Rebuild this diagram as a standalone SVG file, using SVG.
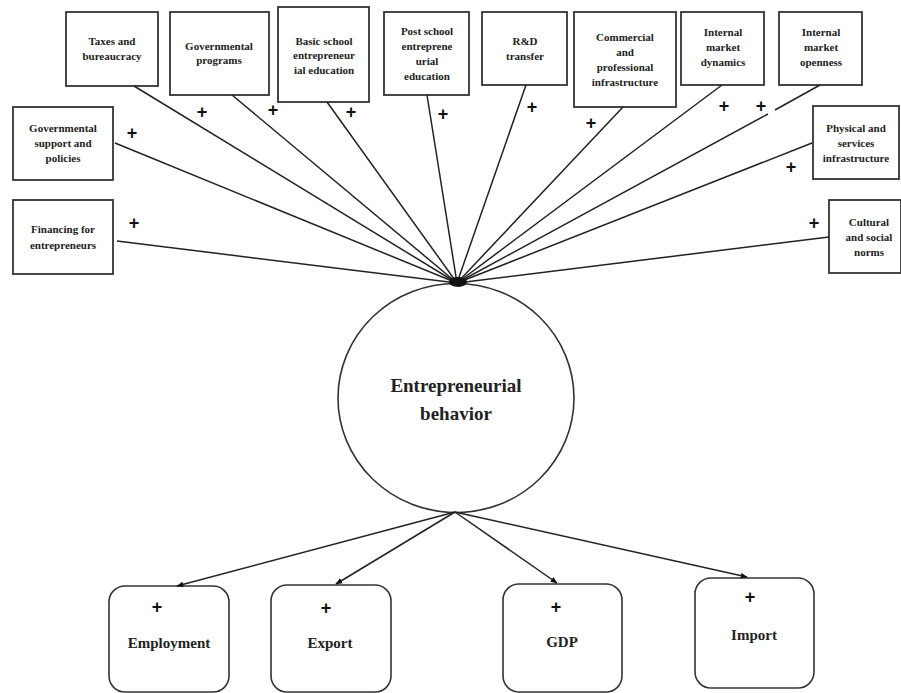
<svg xmlns="http://www.w3.org/2000/svg" width="901" height="693" viewBox="0 0 901 693">
<style>
.box{fill:#fff;stroke:#333;stroke-width:1.8}
.rbox{fill:#fff;stroke:#333;stroke-width:1.6}
.t{font-family:"Liberation Serif","Times New Roman",serif;font-weight:bold;font-size:11px;fill:#222;text-anchor:middle}
.tb{font-family:"Liberation Serif","Times New Roman",serif;font-weight:bold;font-size:15px;fill:#222;text-anchor:middle}
.tc{font-family:"Liberation Serif","Times New Roman",serif;font-weight:bold;font-size:19px;fill:#222;text-anchor:middle}
.p{font-family:"Liberation Sans",Arial,sans-serif;font-weight:bold;font-size:18px;fill:#111;text-anchor:middle}
.ln{stroke:#222;stroke-width:1.5;fill:none}
</style>
<defs>
<marker id="ah" viewBox="0 0 10 10" refX="9" refY="5" markerWidth="7" markerHeight="7" orient="auto" markerUnits="userSpaceOnUse">
<path d="M0,1 L10,5 L0,9 Z" fill="#111"/>
</marker>
</defs>
<rect width="901" height="693" fill="#fff"/>

<g id="taxes"><rect class="box" x="66" y="12" width="92" height="74"/>
<text class="t" x="112" y="45">Taxes and</text><text class="t" x="112" y="60">bureaucracy</text></g>

<g id="gov-programs"><rect class="box" x="170" y="12" width="99" height="83"/>
<text class="t" x="219" y="50">Governmental</text><text class="t" x="219" y="64">programs</text></g>

<g id="basic-school"><rect class="box" x="278" y="7" width="91" height="95"/>
<text class="t" x="324" y="45">Basic school</text><text class="t" x="324" y="59">entrepreneur</text><text class="t" x="324" y="74">ial education</text></g>

<g id="post-school"><rect class="box" x="384" y="12" width="85" height="83"/>
<text class="t" x="427" y="35">Post school</text><text class="t" x="427" y="50">entreprene</text><text class="t" x="427" y="65">urial</text><text class="t" x="427" y="80">education</text></g>

<g id="rd-transfer"><rect class="box" x="482" y="12" width="85" height="73"/>
<text class="t" x="525" y="45">R&amp;D</text><text class="t" x="525" y="60">transfer</text></g>

<g id="commercial"><rect class="box" x="574" y="12" width="102" height="95"/>
<text class="t" x="625" y="41">Commercial</text><text class="t" x="625" y="56">and</text><text class="t" x="625" y="71">professional</text><text class="t" x="625" y="86">infrastructure</text></g>

<g id="market-dynamics"><rect class="box" x="681" y="12" width="83" height="73"/>
<text class="t" x="723" y="36">Internal</text><text class="t" x="723" y="51">market</text><text class="t" x="723" y="66">dynamics</text></g>

<g id="market-openness"><rect class="box" x="779" y="12" width="83" height="73"/>
<text class="t" x="821" y="36">Internal</text><text class="t" x="821" y="51">market</text><text class="t" x="821" y="66">openness</text></g>

<g id="gov-support"><rect class="box" x="13" y="107" width="100" height="73"/>
<text class="t" x="63" y="132">Governmental</text><text class="t" x="63" y="147">support and</text><text class="t" x="63" y="162">policies</text></g>

<g id="financing"><rect class="box" x="13" y="200" width="100" height="74"/>
<text class="t" x="63" y="233">Financing for</text><text class="t" x="63" y="249">entrepreneurs</text></g>

<g id="physical"><rect class="box" x="813" y="106" width="86" height="73"/>
<text class="t" x="856" y="132">Physical and</text><text class="t" x="856" y="147">services</text><text class="t" x="856" y="162">infrastructure</text></g>

<g id="cultural"><rect class="box" x="829" y="200" width="72" height="73"/>
<text class="t" x="869" y="226">Cultural</text><text class="t" x="869" y="241">and social</text><text class="t" x="869" y="256">norms</text></g>

<g id="signs">
<text class="p" x="202" y="118">+</text>
<text class="p" x="273" y="116">+</text>
<text class="p" x="132" y="139">+</text>
<text class="p" x="134" y="229">+</text>
<text class="p" x="351" y="118">+</text>
<text class="p" x="443" y="120">+</text>
<text class="p" x="532" y="113">+</text>
<text class="p" x="591" y="129">+</text>
<text class="p" x="724" y="112">+</text>
<text class="p" x="761" y="112">+</text>
<text class="p" x="791" y="173">+</text>
<text class="p" x="814" y="229">+</text>
</g>

<g id="entrepreneurial-behavior"><ellipse cx="456" cy="398" rx="118" ry="114.5" fill="#fff" stroke="#333" stroke-width="1.6"/>
<text class="tc" x="456" y="392">Entrepreneurial</text><text class="tc" x="456" y="420">behavior</text></g>

<g id="employment"><rect class="rbox" x="109" y="586" width="120" height="106" rx="16"/>
<text class="p" x="157" y="613">+</text><text class="tb" x="169" y="648">Employment</text></g>

<g id="export"><rect class="rbox" x="271" y="585" width="120" height="107" rx="16"/>
<text class="p" x="326" y="614">+</text><text class="tb" x="330" y="648">Export</text></g>

<g id="gdp"><rect class="rbox" x="503" y="584" width="119" height="108" rx="16"/>
<text class="p" x="556" y="613">+</text><text class="tb" x="562" y="647">GDP</text></g>

<g id="import"><rect class="rbox" x="695" y="578" width="119" height="110" rx="16"/>
<text class="p" x="750" y="603">+</text><text class="tb" x="754" y="640">Import</text></g>

<g id="connectors">
<line class="ln" x1="134" y1="86" x2="457" y2="283"/>
<line class="ln" x1="232" y1="95" x2="457" y2="283"/>
<line class="ln" x1="327" y1="102" x2="457" y2="283"/>
<line class="ln" x1="427" y1="95" x2="457" y2="283"/>
<line class="ln" x1="526" y1="85" x2="457" y2="283"/>
<line class="ln" x1="623" y1="107" x2="457" y2="283"/>
<line class="ln" x1="722" y1="85" x2="457" y2="283"/>
<line class="ln" x1="820" y1="85" x2="775" y2="110"/>
<line class="ln" x1="768" y1="114" x2="457" y2="283"/>
<line class="ln" x1="115" y1="143" x2="457" y2="283"/>
<line class="ln" x1="117" y1="241" x2="457" y2="283"/>
<line class="ln" x1="812" y1="143" x2="457" y2="283"/>
<line class="ln" x1="829" y1="237" x2="457" y2="283"/>
<ellipse cx="458" cy="282" rx="9" ry="5" fill="#111"/>
<line class="ln" x1="455" y1="512" x2="177" y2="586" marker-end="url(#ah)"/>
<line class="ln" x1="455" y1="512" x2="336" y2="584" marker-end="url(#ah)"/>
<line class="ln" x1="455" y1="512" x2="557" y2="583" marker-end="url(#ah)"/>
<line class="ln" x1="455" y1="512" x2="747" y2="577" marker-end="url(#ah)"/>
</g>
</svg>
